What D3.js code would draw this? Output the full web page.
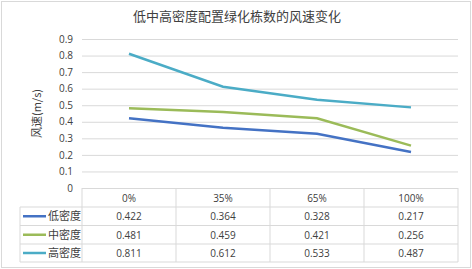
<!DOCTYPE html>
<html><head><meta charset="utf-8">
<script src="https://cdn.jsdelivr.net/npm/d3@7/dist/d3.min.js"></script>
<style>body{margin:0;background:#fff}svg{display:block}</style>
</head><body><svg id="c" width="472" height="269"></svg>
<script>
const title = "低中高密度配置绿化栋数的风速变化";
const yLabel = "风速(m/s)";
const categories = ["0%", "35%", "65%", "100%"];
const seriesNames = ["低密度", "中密度", "高密度"];
const lowDensity = [0.422, 0.364, 0.328, 0.217];
const midDensity = [0.481, 0.459, 0.421, 0.256];
const highDensity = [0.811, 0.612, 0.533, 0.487];
const yTicks = [0, 0.1, 0.2, 0.3, 0.4, 0.5, 0.6, 0.7, 0.8, 0.9];
const colors = ["#4472C4", "#9BBB59", "#4BACC6"];
const series = [lowDensity, midDensity, highDensity];

const svg = d3.select("#c");
const numFont = "'Open Sans', 'Noto Sans', sans-serif";
const cjkFont = "'Noto Sans CJK SC', sans-serif";
const grid = "#d9d9d9";
const txt = "#404040";

svg.append("rect").attr("x", 1.5).attr("y", 1.5).attr("width", 469).attr("height", 266)
  .attr("fill", "#fff").attr("stroke", "#d9d9d9");

const L = 82, R = 458, T = 39, B = 188;
const x = d3.scaleBand().domain(categories).range([L, R]);
const y = d3.scaleLinear().domain([0, 0.9]).range([B, T]);

svg.append("text").attr("x", 237).attr("y", 21).attr("text-anchor", "middle")
  .attr("font-family", cjkFont).attr("font-size", 13).attr("fill", txt).text(title);

const yAxis = svg.append("g").attr("transform", `translate(${L},0)`)
  .call(d3.axisLeft(y).tickValues(yTicks).tickSize(-(R - L)).tickPadding(9).tickFormat(d => d === 0 ? "0" : d3.format(".1f")(d)));
yAxis.select(".domain").remove();
yAxis.selectAll("line").attr("stroke", grid);
yAxis.selectAll("text").attr("font-family", numFont).attr("font-size", 10).attr("fill", "#404040");

svg.append("text").attr("transform", `translate(41,${(T + B) / 2}) rotate(-90)`)
  .attr("text-anchor", "middle").attr("font-family", cjkFont).attr("font-size", 11).attr("fill", txt).text(yLabel);

const line = d3.line().x((d, i) => x(categories[i]) + x.bandwidth() / 2).y(d => y(d));
series.forEach((s, k) => {
  svg.append("path").datum(s).attr("d", line).attr("fill", "none")
    .attr("stroke", colors[k]).attr("stroke-width", 2.5);
});

// data table
const rowTop = [B, 207, 225.5, 244, 262];
const legL = 20;
const tg = svg.append("g").attr("stroke", grid).attr("stroke-width", 1).attr("fill", "none");
tg.append("line").attr("x1", L).attr("x2", R).attr("y1", rowTop[0] + 0.5).attr("y2", rowTop[0] + 0.5);
for (let r = 1; r < rowTop.length; r++) {
  tg.append("line").attr("x1", legL).attr("x2", R).attr("y1", rowTop[r]).attr("y2", rowTop[r]);
}
tg.append("line").attr("x1", legL).attr("x2", legL).attr("y1", rowTop[1]).attr("y2", rowTop[4]);
const colEdges = categories.map(c => x(c)).concat([R]);
colEdges.forEach(cx => {
  tg.append("line").attr("x1", cx).attr("x2", cx).attr("y1", rowTop[0]).attr("y2", rowTop[4]);
});

categories.forEach(c => {
  svg.append("text").attr("x", x(c) + x.bandwidth() / 2).attr("y", (rowTop[0] + rowTop[1]) / 2 + 4)
    .attr("text-anchor", "middle").attr("font-family", numFont).attr("font-size", 10).attr("fill", txt).text(c);
});
series.forEach((s, k) => {
  const cy = (rowTop[k + 1] + rowTop[k + 2]) / 2;
  svg.append("line").attr("x1", 23).attr("x2", 46).attr("y1", cy).attr("y2", cy)
    .attr("stroke", colors[k]).attr("stroke-width", 2.5);
  svg.append("text").attr("x", 48).attr("y", cy + 4).attr("font-family", cjkFont)
    .attr("font-size", 11).attr("fill", txt).text(seriesNames[k]);
  s.forEach((v, i) => {
    svg.append("text").attr("x", x(categories[i]) + x.bandwidth() / 2).attr("y", cy + 4)
      .attr("text-anchor", "middle").attr("font-family", numFont).attr("font-size", 10).attr("fill", txt)
      .text(d3.format(".3f")(v));
  });
});
</script></body></html>
